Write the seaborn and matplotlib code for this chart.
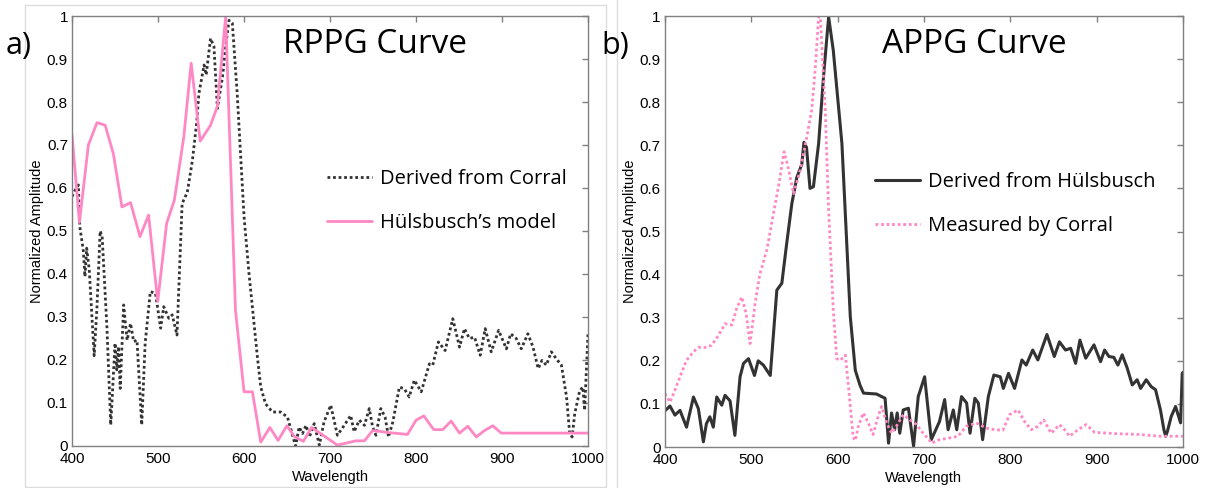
import numpy as np
import pandas as pd
import matplotlib
matplotlib.use("Agg")
import matplotlib.pyplot as plt
from matplotlib.patches import Rectangle
from matplotlib.lines import Line2D
import seaborn as sns

# panel a) RPPG - derived from Corral (dotted black)
wl_corral_a = [400, 403.5, 407.4, 409, 413, 415, 417, 420, 425.7, 428.8, 432.7, 435, 440.5, 445, 450, 452, 454, 456,
               460, 464, 468, 471.6, 475.5, 481, 485, 491, 497, 503, 506.6, 512.5, 516.5, 522, 528, 534, 540, 545,
               547.5, 550, 553.5, 556, 561, 565, 569, 575, 578.6, 582.5, 586.4, 592, 600, 605.8, 609.7, 615.5,
               619.4, 625, 633, 642.7, 650.5, 658, 660, 664, 668, 672, 676, 681.6, 687.5, 693, 700.8, 708.5, 716.5,
               724, 728, 734, 740, 745.6, 749.5, 753.4, 759, 764, 768, 773, 780.6, 786.4, 792, 798, 806, 815.5,
               819.4, 826, 833.8, 842.7, 850.5, 856.3, 862, 868, 874.6, 880.4, 887.4, 896, 905, 910, 916.5, 922.3,
               930, 936, 942, 946.4, 951.5, 957.3, 963, 969, 975, 978.6, 981.5, 984.5, 990.3, 994, 996, 1000]
amp_corral_a = [0.58, 0.595, 0.607, 0.51, 0.456, 0.394, 0.46, 0.41, 0.21, 0.316, 0.50, 0.487, 0.278, 0.049, 0.239,
                0.177, 0.231, 0.134, 0.328, 0.246, 0.285, 0.243, 0.246, 0.049, 0.239, 0.359, 0.355, 0.274, 0.324,
                0.297, 0.305, 0.258, 0.564, 0.59, 0.665, 0.754, 0.82, 0.847, 0.886, 0.863, 0.948, 0.929, 0.785,
                0.859, 0.929, 0.99, 0.983, 0.82, 0.533, 0.40, 0.323, 0.207, 0.137, 0.098, 0.079, 0.079, 0.067,
                0.013, 0.0, 0.044, 0.029, 0.048, 0.021, 0.052, 0.002, 0.056, 0.095, 0.025, 0.048, 0.071, 0.033,
                0.06, 0.048, 0.087, 0.044, 0.025, 0.087, 0.067, 0.021, 0.056, 0.137, 0.133, 0.114, 0.153, 0.126,
                0.191, 0.188, 0.242, 0.222, 0.296, 0.230, 0.273, 0.25, 0.253, 0.211, 0.273, 0.219, 0.269, 0.226,
                0.261, 0.25, 0.226, 0.261, 0.23, 0.18, 0.199, 0.188, 0.219, 0.203, 0.188, 0.114, 0.029, 0.021,
                0.075, 0.129, 0.137, 0.083, 0.265]

# panel a) RPPG - Hülsbusch's model (solid pink)
wl_model_a = [400, 408.6, 419, 429, 438.5, 448, 458, 468, 479, 489, 499.6, 510, 519, 530, 538.5, 549, 561, 569,
              578.6, 590, 600, 609.7, 619.4, 630, 639.6, 649.7, 659, 669, 678.5, 689, 708.5, 730, 740, 749.5, 769,
              790, 800, 809, 820.6, 831, 840.8, 850.5, 860.2, 870, 879.6, 889.3, 899, 1000]
amp_model_a = [0.723, 0.52, 0.70, 0.752, 0.746, 0.68, 0.556, 0.566, 0.487, 0.537, 0.336, 0.518, 0.572, 0.72, 0.89,
               0.709, 0.746, 0.79, 0.999, 0.316, 0.126, 0.126, 0.009, 0.043, 0.013, 0.047, 0.021, 0.011, 0.043,
               0.029, 0.002, 0.012, 0.012, 0.036, 0.031, 0.027, 0.060, 0.070, 0.038, 0.038, 0.058, 0.030, 0.046,
               0.021, 0.036, 0.047, 0.030, 0.030]

# panel b) APPG - derived from Hülsbusch (solid black)
wl_hulsbusch_b = [400, 405.8, 411.6, 417.4, 425, 433, 438.7, 444.5, 448, 452, 456, 460, 465.8, 469.6, 475.4, 481,
                  487, 491, 496.8, 503.7, 508, 514, 522, 529.6, 535.4, 541, 547, 552.7, 558.5, 561, 564, 568, 572,
                  578, 583.7, 589.6, 595, 605, 614.7, 620.5, 626, 630, 645, 655, 659, 662.5, 666, 669, 672, 676,
                  682, 688, 693.4, 700.8, 708.5, 718, 724, 728, 734, 738, 743.5, 749.5, 753.4, 759, 763, 768,
                  774.6, 781, 788.4, 792, 798, 805, 813.5, 818.5, 826, 832, 842.5, 851, 857, 864, 870, 875.7,
                  880.7, 887.4, 897, 904.6, 909.3, 914.3, 920, 924.7, 929.7, 935.5, 941.3, 947, 951, 957.5, 963.3,
                  968.3, 974, 978, 980, 982, 986.5, 991.5, 997.3, 999.2, 1000]
amp_hulsbusch_b = [0.084, 0.095, 0.074, 0.085, 0.046, 0.116, 0.089, 0.012, 0.054, 0.07, 0.046, 0.116, 0.097, 0.12,
                   0.107, 0.027, 0.163, 0.194, 0.205, 0.166, 0.2, 0.19, 0.166, 0.364, 0.38, 0.472, 0.565, 0.625,
                   0.656, 0.707, 0.695, 0.60, 0.604, 0.704, 0.86, 0.998, 0.92, 0.704, 0.302, 0.178, 0.143, 0.125,
                   0.123, 0.113, 0.009, 0.079, 0.04, 0.079, 0.032, 0.086, 0.09, 0.002, 0.117, 0.163, 0.017, 0.059,
                   0.11, 0.04, 0.086, 0.04, 0.117, 0.102, 0.032, 0.113, 0.102, 0.017, 0.117, 0.167, 0.163, 0.136,
                   0.171, 0.136, 0.202, 0.19, 0.225, 0.202, 0.261, 0.21, 0.244, 0.225, 0.229, 0.194, 0.248, 0.206,
                   0.237, 0.198, 0.225, 0.21, 0.208, 0.19, 0.214, 0.183, 0.144, 0.156, 0.136, 0.156, 0.14, 0.133,
                   0.086, 0.04, 0.025, 0.036, 0.071, 0.094, 0.056, 0.171, 0.173]

# panel b) APPG - measured by Corral (dotted pink)
wl_corral_b = [400, 405.8, 411.6, 417.4, 425, 433, 438.7, 446.4, 454, 462, 469.6, 477.4, 483, 489, 494, 498.6,
               504.4, 510, 518, 525.7, 531.5, 538, 543, 549, 556.7, 564.4, 570, 574, 578, 580, 585.7, 589.6, 595,
               599, 603, 609, 613, 618, 620.5, 624, 629.7, 635.5, 641, 647, 651, 656.8, 662.5, 668, 676, 683.8,
               691.5, 699, 706, 708.5, 718, 729.7, 739.4, 749, 760.6, 772, 781.9, 791.5, 799.2, 809, 816.6, 824.3,
               832, 838.6, 847.5, 857, 863, 868.7, 878.4, 888, 897.7, 922.8, 949.8, 973, 1000]
amp_corral_b = [0.124, 0.104, 0.132, 0.163, 0.201, 0.221, 0.231, 0.231, 0.236, 0.259, 0.286, 0.283, 0.321, 0.348,
                0.31, 0.24, 0.333, 0.402, 0.457, 0.542, 0.604, 0.685, 0.646, 0.588, 0.642, 0.72, 0.782, 0.875,
                0.998, 0.998, 0.782, 0.55, 0.317, 0.205, 0.201, 0.213, 0.132, 0.023, 0.015, 0.048, 0.079, 0.056,
                0.029, 0.071, 0.094, 0.056, 0.032, 0.048, 0.075, 0.063, 0.052, 0.032, 0.017, 0.009, 0.017, 0.021,
                0.025, 0.048, 0.056, 0.044, 0.04, 0.039, 0.075, 0.086, 0.059, 0.04, 0.048, 0.063, 0.032, 0.052,
                0.04, 0.025, 0.04, 0.052, 0.034, 0.031, 0.029, 0.025, 0.025]

x_ticks = [400, 500, 600, 700, 800, 900, 1000]
y_ticks = [0, 0.1, 0.2, 0.3, 0.4, 0.5, 0.6, 0.7, 0.8, 0.9, 1]
y_tick_labels = ["0", "0.1", "0.2", "0.3", "0.4", "0.5", "0.6", "0.7", "0.8", "0.9", "1"]

sns.set_style("white")
plt.rcParams["font.family"] = ["Liberation Sans", "DejaVu Sans"]
plt.rcParams["text.color"] = "black"
plt.rcParams["axes.labelcolor"] = "black"

PINK = "#ff88c4"
DARK = "#333333"
SPINE = "#808080"
CALIBRI_LIKE = ["Open Sans", "DejaVu Sans"]

fig = plt.figure(figsize=(12.11, 4.88), dpi=100)
ax_a = fig.add_axes([0.0595, 0.0861, 0.4261, 0.8811])
ax_b = fig.add_axes([0.5491, 0.0840, 0.4277, 0.8832])

# image-style panel borders
fig.patches.append(Rectangle((0.0206, 0.002), 0.4798, 0.9878, transform=fig.transFigure,
                             fill=False, edgecolor="#dddddd", linewidth=1))
fig.lines.append(Line2D([0.5095, 0.5095], [0.0, 1.0], transform=fig.transFigure,
                        color="#dddddd", linewidth=1))

df_a1 = pd.DataFrame({"wl": wl_corral_a, "amp": amp_corral_a})
df_a2 = pd.DataFrame({"wl": wl_model_a, "amp": amp_model_a})
df_b1 = pd.DataFrame({"wl": wl_hulsbusch_b, "amp": amp_hulsbusch_b})
df_b2 = pd.DataFrame({"wl": wl_corral_b, "amp": amp_corral_b})

sns.lineplot(data=df_a1, x="wl", y="amp", ax=ax_a, color=DARK, linewidth=2,
             linestyle=(0, (1, 1)), label="Derived from Corral", estimator=None, sort=False)
sns.lineplot(data=df_a2, x="wl", y="amp", ax=ax_a, color=PINK, linewidth=2,
             label="Hülsbusch\u2019s model", estimator=None, sort=False)
sns.lineplot(data=df_b1, x="wl", y="amp", ax=ax_b, color=DARK, linewidth=2.2,
             label="Derived from Hülsbusch", estimator=None, sort=False)
sns.lineplot(data=df_b2, x="wl", y="amp", ax=ax_b, color=PINK, linewidth=2,
             linestyle=(0, (1, 1)), label="Measured by Corral", estimator=None, sort=False)

panels = [(ax_a, "RPPG Curve", 0.409, (0.494, 0.569)),
          (ax_b, "APPG Curve", 0.419, (0.405, 0.563))]
for ax, title, tx, anchor in panels:
    ax.set_xlim(400, 1000)
    ax.set_ylim(0, 1)
    ax.set_xticks(x_ticks)
    ax.set_xticklabels([str(t) for t in x_ticks])
    ax.set_yticks(y_ticks)
    ax.set_yticklabels(y_tick_labels)
    ax.tick_params(direction="in", length=4, width=1, color=SPINE, labelsize=11,
                   labelcolor="black", top=True, right=True)
    ax.tick_params(axis="x", pad=4)
    ax.tick_params(axis="y", pad=3)
    for s in ax.spines.values():
        s.set_color(SPINE)
        s.set_linewidth(1)
    ax.set_xlabel("Wavelength", fontsize=10.5, labelpad=3)
    ax.set_ylabel("Normalized Amplitude", fontsize=10.5, labelpad=2)
    ax.text(tx, 0.933, title, transform=ax.transAxes, fontsize=24, va="center", ha="left",
            family=CALIBRI_LIKE)
    ax.legend(loc="center left", bbox_to_anchor=anchor, frameon=False,
              borderaxespad=0, borderpad=0, handlelength=2.25, handletextpad=0.4,
              labelspacing=1.2, prop={"family": CALIBRI_LIKE, "size": 14.5})

fig.text(0.005, 0.905, "a)", fontsize=22, va="center", ha="left", family=CALIBRI_LIKE)
fig.text(0.497, 0.905, "b)", fontsize=22, va="center", ha="left", family=CALIBRI_LIKE)

fig.savefig("out.png", dpi=100)
